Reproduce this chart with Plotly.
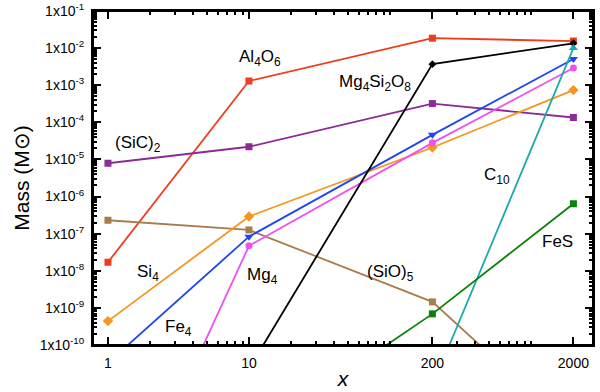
import plotly.graph_objects as go

# x values (cluster size) and masses
x_vals = [1, 10, 200, 2000]

al4o6 = [1.7e-8, 1.3e-3, 1.85e-2, 1.55e-2]
sic2 = [7.9e-6, 2.2e-5, 3.2e-4, 1.35e-4]
sio5 = [2.3e-7, 1.26e-7, 1.45e-9, 5e-13]
si4 = [4.4e-10, 2.9e-7, 2.1e-5, 7.4e-4]
fe4 = [3.3e-11, 8.3e-8, 4.6e-5, 5.1e-3]
mg4 = [2.5e-16, 4.7e-8, 2.8e-5, 2.9e-3]
mg4si2o8 = [None, 2.3e-11, 3.7e-3, 1.35e-2]
c10 = [None, None, 8e-12, 1.0e-2]
fes = [None, 3e-13, 6.9e-10, 6.4e-7]

series = [
    ("Al4O6", al4o6, "#f03c1e", "square", 7),
    ("(SiC)2", sic2, "#8c2a96", "square", 7),
    ("(SiO)5", sio5, "#a87c4c", "square", 7),
    ("Si4", si4, "#f5961e", "diamond", 8),
    ("Fe4", fe4, "#1e46f0", "triangle-down", 8),
    ("Mg4", mg4, "#f050f0", "circle", 7),
    ("Mg4Si2O8", mg4si2o8, "#000000", "diamond", 6),
    ("C10", c10, "#1eaaaa", "triangle-up", 8),
    ("FeS", fes, "#0a820a", "square", 7),
]

fig = go.Figure()
for name, ys, color, symbol, size in series:
    fig.add_trace(go.Scatter(x=x_vals, y=ys, mode="lines+markers", name=name,
                             line=dict(color=color, width=1.8),
                             marker=dict(color=color, symbol=symbol, size=size),
                             connectgaps=False))

# labels placed in pixels of the plot area (93..593 x, 11..345 y)
labels = [
    ("Al<sub>4</sub>O<sub>6</sub>", 260, 58),
    ("Mg<sub>4</sub>Si<sub>2</sub>O<sub>8</sub>", 375, 83),
    ("(SiC)<sub>2</sub>", 138, 144),
    ("Si<sub>4</sub>", 148, 273),
    ("Mg<sub>4</sub>", 262, 276),
    ("Fe<sub>4</sub>", 178, 328),
    ("(SiO)<sub>5</sub>", 390, 273),
    ("C<sub>10</sub>", 497, 176),
    ("FeS", 557, 242),
]
for txt, px_, py_ in labels:
    fig.add_annotation(text=txt, x=(px_ - 93) / 500, y=(345 - py_) / 334,
                       xref="paper", yref="paper", xanchor="center", yanchor="middle",
                       showarrow=False, font=dict(size=17, color="black"))

# frame around the plot area
fig.add_shape(type="rect", xref="paper", yref="paper", x0=0, y0=0, x1=1, y1=1,
              line=dict(color="black", width=2), layer="above")

y_ticks = [10.0 ** -k for k in range(1, 11)]
y_text = ["1x10<sup>-%d</sup>" % k for k in range(1, 11)]
y_minor = [m * 10.0 ** -k for k in range(2, 11) for m in range(2, 10)]
x_minor = [m * 10.0 ** k for k in range(0, 4) for m in range(1, 10) if m * 10.0 ** k not in (1, 10, 200, 2000)]

fig.update_xaxes(type="log", range=[-0.106, 3.44], automargin=False,
                 tickvals=[1, 10, 200, 2000], ticktext=["1", "10", "200", "2000"],
                 ticks="inside", ticklen=8, tickcolor="black", tickwidth=1.5,
                 minor=dict(tickvals=x_minor, ticks="inside", ticklen=4, tickcolor="black"),
                 showline=True, linecolor="black", linewidth=2, mirror="ticks",
                 showgrid=False, zeroline=False, ticklabelstandoff=4,
                 ticklabeloverflow="allow",
                 tickfont=dict(size=14, color="black"),
                 title=dict(text="<i>x</i>", font=dict(size=21, color="black"), standoff=2))
fig.update_yaxes(type="log", range=[-10.0, -1.0], automargin=False,
                 tickvals=y_ticks, ticktext=y_text,
                 ticks="inside", ticklen=8, tickcolor="black", tickwidth=1.5,
                 minor=dict(tickvals=y_minor, ticks="inside", ticklen=4, tickcolor="black"),
                 showline=True, linecolor="black", linewidth=2, mirror="ticks",
                 showgrid=False, zeroline=False, ticklabelstandoff=4,
                 ticklabeloverflow="allow",
                 tickfont=dict(size=14, color="black"),
                 title=dict(text="Mass (M\u2299)", font=dict(size=21, color="black"), standoff=4))

fig.update_layout(width=600, height=392,
                  margin=dict(l=93, r=7, t=11, b=47),
                  plot_bgcolor="white", paper_bgcolor="white",
                  showlegend=False,
                  font=dict(family="Liberation Sans, Arial, sans-serif", color="black"))

# drop the default 8px page margin so the figure sits at the window corner
fig.write_html("out.html", config={"displayModeBar": False},
               post_script="document.body.style.margin = '0px';")
